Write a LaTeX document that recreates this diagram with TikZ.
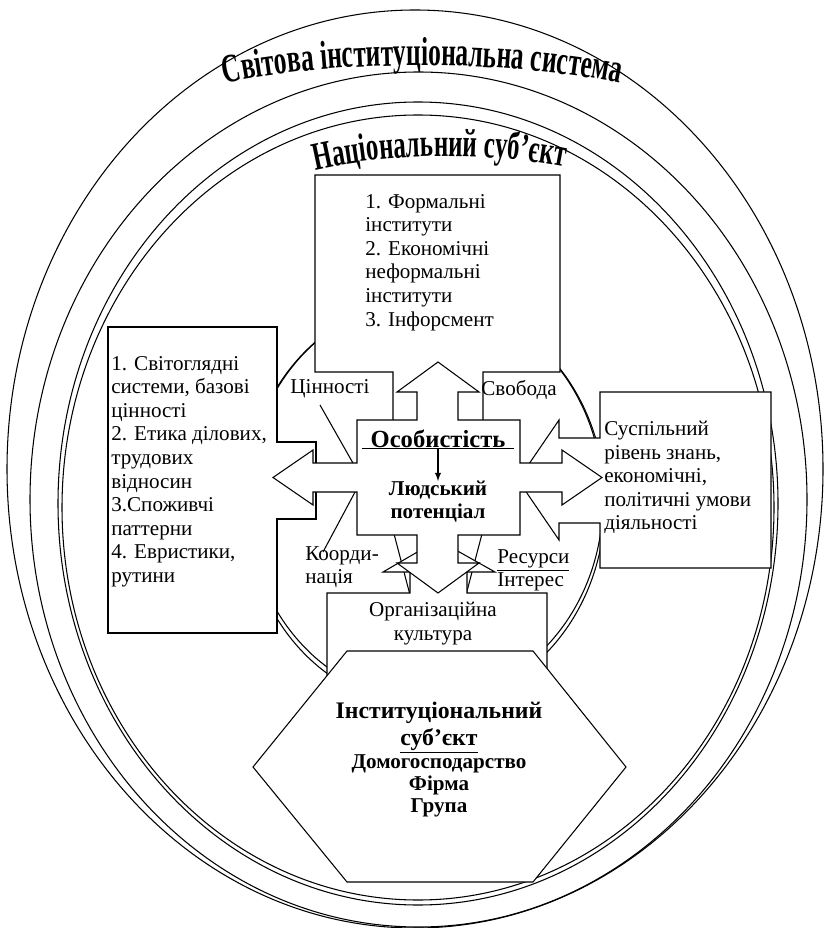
\documentclass[tikz,border=0pt]{standalone}
\usepackage{fontspec}
\setmainfont{Liberation Serif}
\newfontfamily\archfont[FakeStretch=0.63]{Liberation Serif}
\usetikzlibrary{decorations.text}
\tikzset{
  ring/.style={draw, line width=0.6pt},
  panel/.style={draw, fill=white, line width=0.6pt},
  txt/.style={inner sep=0pt, align=left, font=\fontsize{12}{13.4}\selectfont},
  ctxt/.style={inner sep=0pt, align=center, font=\fontsize{12}{13.4}\selectfont},
  btxt/.style={inner sep=0pt, align=center, font=\bfseries\fontsize{12}{12.6}\selectfont},
}
\begin{document}
\begin{tikzpicture}[x=0.02cm, y=-0.02cm]
%
\useasboundingbox (0,0) rectangle (825,928);
%
% rings
\draw[ring] (415,469) ellipse [x radius=408, y radius=459];
\draw[ring] (418.5,499.5) ellipse [x radius=388.5, y radius=427.5];
\draw[ring] (418,503.5) ellipse [x radius=360, y radius=401.5];
\draw[ring] (418,507.5) ellipse [x radius=356, y radius=392.5];
\draw[ring] (425,500) ellipse [x radius=178, y radius=200];
\draw[ring] (425,503) ellipse [x radius=180, y radius=203];
%
% titles on the rings
\path[decorate, decoration={text along path, text align=center,
  text={|\archfont\bfseries\fontsize{23}{23}\selectfont|Світова інституціональна система}}]
  (205,88) .. controls (320,58) and (520,58) .. (640,88);
\path[decorate, decoration={text along path, text align=center,
  text={|\archfont\bfseries\fontsize{22.5}{22.5}\selectfont|Національний суб’єкт}}]
  (290,177) .. controls (380,150) and (500,150) .. (590,173);
%
% callout boxes
\draw[panel] (315,175) -- (560,175) -- (560,372) -- (483,372) -- (483,530) -- (438,702)
  -- (393,530) -- (393,372) -- (315,372) -- cycle;
\draw[panel] (108,327) -- (277,327) -- (277,442) -- (316,442) -- (316,519) -- (277,519)
  -- (277,633) -- (108,633) -- cycle;
\draw[ring] (320,405) -- (362,479) -- (323,552);
\draw[panel] (600,392) -- (771,392) -- (771,568) -- (600,568) -- (600,523) -- (559,523)
  -- (559,540) -- (518,480) -- (559,420) -- (559,438) -- (600,438) -- cycle;
\draw[panel] (327,593) -- (410,593) -- (410,572) -- (383,572) -- (438,540) -- (495,572)
  -- (467,572) -- (467,593) -- (547,593) -- (547,720) -- (327,720) -- cycle;
%
% quad arrow callout
\draw[panel] (357,420) -- (417,420) -- (417,392) -- (397,392) -- (438,362) -- (479,392)
  -- (458,392) -- (458,420) -- (520,420) -- (520,463) -- (562,463) -- (562,450)
  -- (602,477.5) -- (562,505) -- (562,492) -- (520,492) -- (520,535) -- (458,535)
  -- (458,563) -- (479,563) -- (438,593) -- (397,563) -- (417,563) -- (417,535)
  -- (357,535) -- (357,492) -- (313,492) -- (313,505) -- (273,477.5) -- (313,450)
  -- (313,463) -- (357,463) -- cycle;
%
% hexagon
\draw[panel] (347,651) -- (533,651) -- (626,767) -- (533,882) -- (347,882) -- (253,767) -- cycle;
%
% texts
\node[txt, anchor=north west] (formal) at (365,194) {1. Формальні\\інститути\\2. Економічні\\неформальні\\інститути\\3. Інфорсмент};
\node[txt, anchor=north west] (values) at (111,356) {1. Світоглядні\\системи, базові\\цінності\\2. Етика ділових,\\трудових\\відносин\\3.Споживчі\\паттерни\\4. Евристики,\\рутини};
\node[txt, anchor=north west] (level) at (604,421) {Суспільний\\рівень знань,\\економічні,\\політичні умови\\діяльності};
\node[ctxt] (cinn) at (330,389) {Цінності};
\node[ctxt] (svob) at (519,390) {Свобода};
\node[txt, anchor=north west] (koord) at (305,546) {Коорди-\\нація};
\node[txt, anchor=north west] (resurs) at (497,549) {\underline{Ресурси}\\Інтерес};
\node[ctxt, anchor=north] (orgc) at (433,602) {Організаційна\\культура};
%
\node[inner sep=0pt, inner xsep=5pt, font=\bfseries\fontsize{14}{14}\selectfont] (osob) at (438,439) {Особистість};
\draw[line width=0.6pt] (osob.south west) -- (osob.south east);
\node[btxt, anchor=north] (potent) at (438,481) {Людський\\потенціал};
\draw[-latex, line width=0.6pt] (osob.south) -- (potent.north);
%
\node[inner sep=0pt, align=center, font=\bfseries\fontsize{13.5}{15}\selectfont, anchor=north] (inst) at (439,702) {Інституціональний\\\underline{суб’єкт}};
\node[btxt, anchor=north] (kinds) at (439,754) {Домогосподарство\\Фірма\\Група};
%
\end{tikzpicture}
\end{document}
